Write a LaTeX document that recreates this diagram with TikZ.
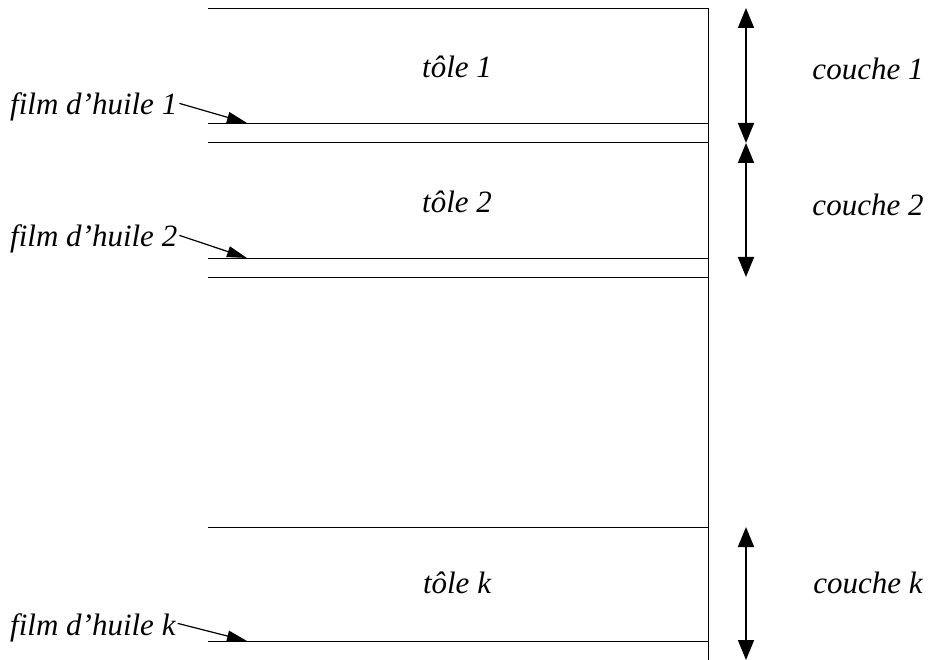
\documentclass[tikz,border=0pt]{standalone}
\usepackage{fontspec}
\setmainfont{Liberation Serif}
\usetikzlibrary{arrows.meta}
\usetikzlibrary{positioning}

\begin{document}
\begin{tikzpicture}[x=1pt, y=-1pt,
  lbl/.style={font=\fontsize{31}{36}\selectfont\itshape, inner sep=0pt},
  layer arrow/.style={line width=1.6pt, {Triangle[width=16pt,length=20pt]}-{Triangle[width=16pt,length=20pt]}},
  film arrow/.style={line width=1.2pt, -{Triangle[width=11pt,length=20pt]}}]

\useasboundingbox (0,0) rectangle (930,660);

% the sheets
\draw (208,8) -- (708,8);
\draw (708,8) -- (708,660);
\foreach \y in {123,142,258,277,527,641}
  \draw (208,\y) -- (708,\y);

\node[lbl, anchor=base] (tole1) at (457,78) {tôle 1};
\node[lbl, anchor=base] (tole2) at (457,213) {tôle 2};
\node[lbl, anchor=base] (tolek) at (457,593) {tôle k};

\node[lbl, anchor=base] (couche1) at (868,80) {couche 1};
\node[lbl, anchor=base] (couche2) at (868,216) {couche 2};
\node[lbl, anchor=base] (couchek) at (868,593) {couche k};

% oil films
\node[lbl, anchor=base west] (film1) at (10,115) {film d’huile 1};
\node[lbl, anchor=base west] (film2) at (10,247) {film d’huile 2};
\node[lbl, anchor=base west] (filmk) at (10,635) {film d’huile k};

\coordinate (f1tip) at (247,123);
\coordinate (f2tip) at (247,258);
\coordinate (fktip) at (247,641);

\draw[film arrow] ([xshift=2pt,yshift=4pt]film1.east) -- (f1tip);
\draw[film arrow] ([xshift=2pt,yshift=4pt]film2.east) -- (f2tip);
\draw[film arrow] ([xshift=2pt,yshift=4pt]filmk.east) -- (fktip);

% layer thickness
\coordinate (c1top) at (746,8);
\coordinate (c1bot) at (746,143);
\coordinate (c2bot) at (746,277);
\coordinate (cktop) at (746,527);
\coordinate (ckbot) at (746,660);

\draw[layer arrow] (c1top) -- (c1bot);
\draw[layer arrow] (c1bot) -- (c2bot);
\draw[layer arrow] (cktop) -- (ckbot);

\end{tikzpicture}
\end{document}
